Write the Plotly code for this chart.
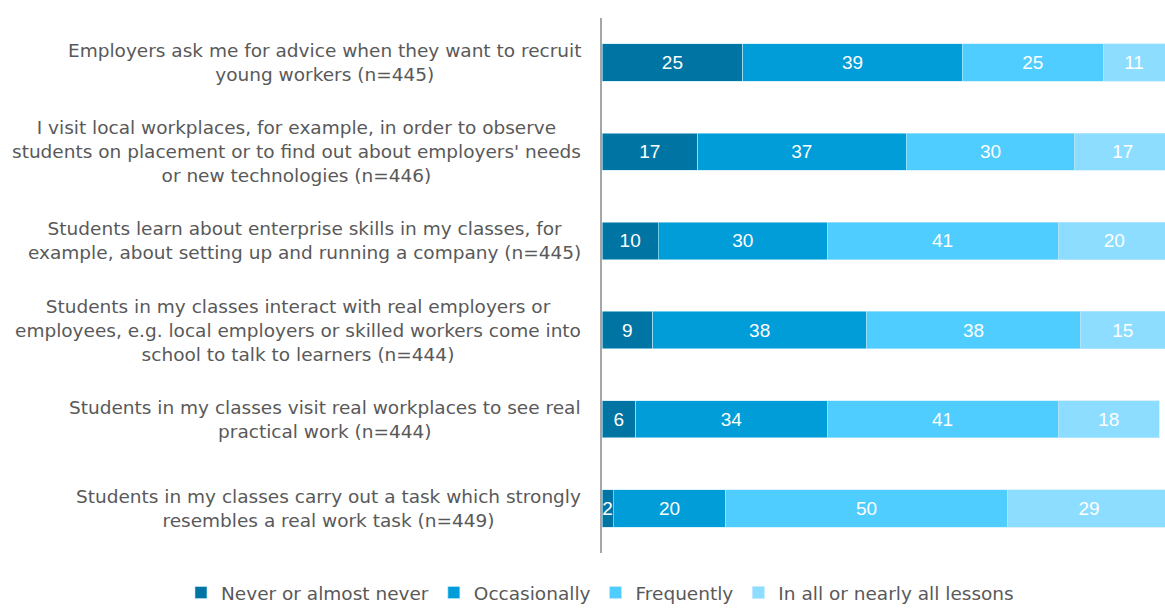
import plotly.graph_objects as go

statements = [
    "Employers ask me for advice when they want to recruit<br>young workers (n=445)",
    "I visit local workplaces, for example, in order to observe<br>students on placement or to find out about employers' needs<br>or new technologies (n=446)",
    "Students learn about enterprise skills in my classes, for<br>example, about setting up and running a company (n=445)",
    "Students in my classes interact with real employers or<br>employees, e.g. local employers or skilled workers come into<br>school to talk to learners (n=444)",
    "Students in my classes visit real workplaces to see real<br>practical work (n=444)",
    "Students in my classes carry out a task which strongly<br>resembles a real work task (n=449)",
]
row_ids = ["r1", "r2", "r3", "r4", "r5", "r6"]

never = [25, 17, 10, 9, 6, 2]
occasionally = [39, 37, 30, 38, 34, 20]
frequently = [25, 30, 41, 38, 41, 50]
all_lessons = [11, 17, 20, 15, 18, 29]

series = [
    ("Never or almost never", never, "#0075A3"),
    ("Occasionally", occasionally, "#009DD8"),
    ("Frequently", frequently, "#4FCDFF"),
    ("In all or nearly all lessons", all_lessons, "#8CDDFF"),
]

W, H = 1165, 612
plot_left = 602 / W  # left edge of the bar area (paper fraction)

fig = go.Figure()
for name, vals, color in series:
    fig.add_trace(go.Bar(
        y=row_ids, x=vals, name=name, orientation="h",
        marker=dict(color=color, line=dict(color="#BFE9FA", width=0.6)),
        text=[str(v) for v in vals], textposition="inside",
        insidetextanchor="middle",
        textfont=dict(color="white", size=19, family="Liberation Sans, Arial"),
        width=0.42,
    ))

for rid, label in zip(row_ids, statements):
    fig.add_annotation(
        x=plot_left, xref="paper", y=rid, yref="y", xshift=-19,
        xanchor="right", yanchor="middle", align="center",
        text=label, showarrow=False,
        font=dict(size=18.5, color="#595959", family="DejaVu Sans"),
    )

fig.update_layout(
    barmode="stack",
    width=W, height=H,
    margin=dict(l=0, r=0, t=18, b=0),
    plot_bgcolor="white", paper_bgcolor="white",
    uniformtext=dict(mode="show", minsize=19),
    font=dict(family="DejaVu Sans", color="#595959"),
    xaxis=dict(domain=[plot_left, 1], range=[0, 100], showticklabels=False,
               showgrid=False, showline=False, zeroline=False, ticks=""),
    yaxis=dict(domain=[59 / 594, 1],
               categoryorder="array", categoryarray=row_ids[::-1],
               showticklabels=False, showgrid=False,
               showline=True, linecolor="#A6A6A6", linewidth=1.5,
               ticks="", zeroline=False),
    legend=dict(orientation="h", x=0.515, xanchor="center",
                y=0, yanchor="bottom",
                font=dict(size=18.5, color="#595959", family="DejaVu Sans"),
                traceorder="normal"),
    showlegend=True,
)

fig.write_html("out.html")
